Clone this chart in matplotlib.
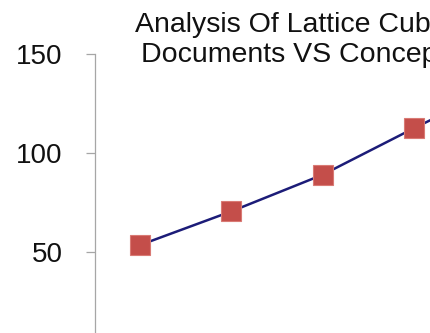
import matplotlib
matplotlib.use('Agg')
import matplotlib.pyplot as plt

plt.rcParams['font.family'] = ['Liberation Sans', 'DejaVu Sans']

# data (last point lies beyond the visible crop)
x_pos = [1, 2, 3, 4, 5]
values = [53.5, 70.5, 89, 112.5, 135]
y_ticks = [50, 100, 150]
title_lines = ['Analysis Of Lattice Cube', 'Documents VS Concepts']

fig = plt.figure(figsize=(4.3, 3.33), dpi=100)
ax = fig.add_axes([95 / 430, -0.054, 335 / 430, 0.892])
ax.plot(x_pos, values, color='#1c1c78', linewidth=1.8,
        marker='s', markersize=14, markerfacecolor='#c44e4a',
        markeredgecolor='#d97a74', markeredgewidth=0.8, clip_on=False)
ax.set_xlim(0.507, 4.176)
ax.set_ylim(0, 150)
ax.set_yticks(y_ticks)
ax.set_xticks([])
for s in ['top', 'right', 'bottom']:
    ax.spines[s].set_visible(False)
ax.spines['left'].set_color('#a6a6a6')
ax.spines['left'].set_linewidth(0.9)
ax.tick_params(axis='y', length=6.5, width=0.9, color='#a6a6a6',
               pad=17, labelsize=20, labelcolor='#111111')
ax.patch.set_alpha(0)

# title, two lines (the chart is cropped on the right)
fig.text(135 / 430, 1 - 32 / 333, title_lines[0],
         ha='left', va='baseline', fontsize=20.5, color='#111111')
fig.text(141 / 430, 1 - 62 / 333, title_lines[1],
         ha='left', va='baseline', fontsize=20.5, color='#111111')

fig.savefig('out.png', dpi=100)
